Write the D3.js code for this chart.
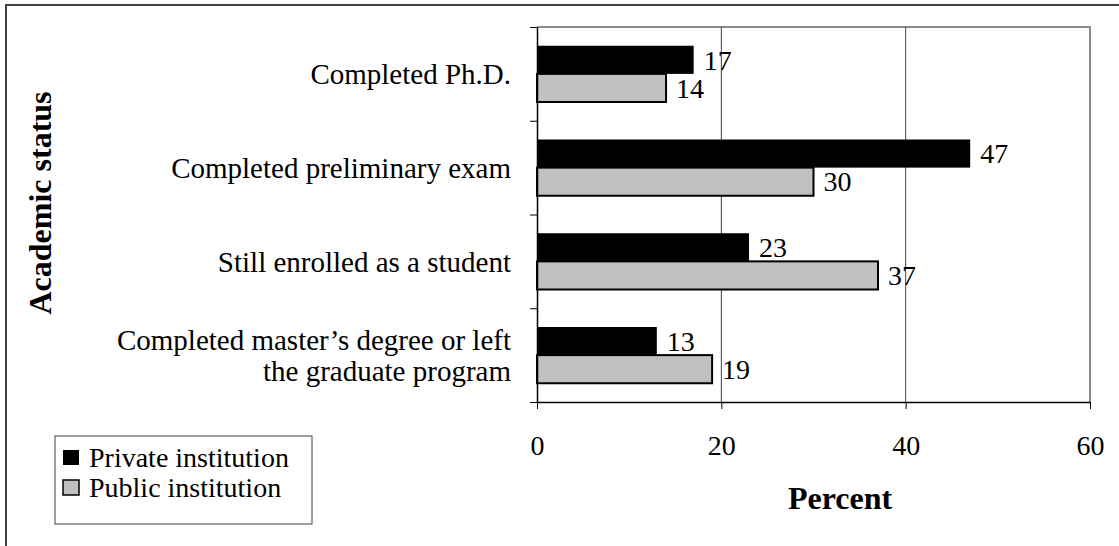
<!DOCTYPE html>
<html>
<head>
<meta charset="utf-8">
<script src="https://cdn.jsdelivr.net/npm/d3@7"></script>
<style>
  body { margin: 0; background: #fff; }
  svg { display: block; font-family: "Liberation Serif", "Times New Roman", serif; }
</style>
</head>
<body>
<svg width="1119" height="546"></svg>
<script>
// data
const categories = [
  "Completed Ph.D.",
  "Completed preliminary exam",
  "Still enrolled as a student",
  "Completed master\u2019s degree or left|the graduate program"
]
const seriesNames = ["Private institution", "Public institution"]
const privateValues = [17, 47, 23, 13]
const publicValues = [14, 30, 37, 19]
const xTicks = [0, 20, 40, 60]

const colors = ["#000000", "#c0c0c0"]

const svg = d3.select("svg")
const plotL = 537, plotR = 1090, plotT = 27, plotB = 402

const x = d3.scaleLinear().domain([0, 60]).range([plotL, plotR])
const y = d3.scaleBand().domain(categories).range([plotT, plotB]).padding(0)
const ySeries = d3.scaleBand().domain([0, 1])
  .range([y.bandwidth() * 0.2, y.bandwidth() * 0.8])
const yEdge = d3.scaleLinear().domain([0, categories.length]).range([plotT, plotB])

// outer frame (top + left only)
svg.append("path")
  .attr("d", "M6,546V5H1119")
  .attr("fill", "none")
  .attr("stroke", "#404040")
  .attr("stroke-width", 2)

// plot border top/right
svg.append("path")
  .attr("d", `M${plotL},${plotT}H${plotR}V${plotB}`)
  .attr("fill", "none")
  .attr("stroke", "#8c8c8c")
  .attr("stroke-width", 2)

// gridlines
svg.append("g").selectAll("line")
  .data(xTicks.slice(1, -1))
  .join("line")
  .attr("x1", d => x(d)).attr("x2", d => x(d))
  .attr("y1", plotT).attr("y2", plotB)
  .attr("stroke", "#404040")
  .attr("stroke-width", 1)

// bars
const rows = categories.map((c, i) => ({ cat: c, vals: [privateValues[i], publicValues[i]] }))

const groups = svg.append("g").selectAll("g")
  .data(rows)
  .join("g")
  .attr("transform", d => "translate(0," + y(d.cat) + ")")

groups.selectAll("rect")
  .data(d => d.vals.map((v, s) => ({ v: v, s: s })))
  .join("rect")
  .attr("x", x(0))
  .attr("y", d => ySeries(d.s))
  .attr("width", d => x(d.v) - x(0))
  .attr("height", ySeries.bandwidth())
  .attr("fill", d => colors[d.s])
  .attr("stroke", d => d.s === 1 ? "#000" : "none")
  .attr("stroke-width", 2)

// value labels
groups.selectAll("text")
  .data(d => d.vals.map((v, s) => ({ v: v, s: s })))
  .join("text")
  .attr("x", d => x(d.v) + 10)
  .attr("y", d => ySeries(d.s) + ySeries.bandwidth() / 2)
  .attr("dy", "0.35em")
  .attr("font-size", 28)
  .text(d => d.v)

// left axis (ticks at category edges)
const yAxis = svg.append("g")
  .attr("transform", "translate(" + plotL + ",0)")
  .call(d3.axisLeft(yEdge).tickValues(d3.range(categories.length + 1)).tickSize(7).tickSizeOuter(0).tickFormat(""))
yAxis.select(".domain").attr("stroke-width", 1.5)

// category labels
svg.append("g").selectAll("text")
  .data(categories)
  .join("text")
  .attr("text-anchor", "end")
  .attr("font-size", 29)
  .each(function (d) {
    const lines = d.split("|")
    const t = d3.select(this)
    const cy = y(d) + y.bandwidth() / 2
    const lh = 31
    lines.forEach((ln, k) => {
      t.append("tspan")
        .attr("x", 511)
        .attr("y", cy + (k - (lines.length - 1) / 2) * lh)
        .attr("dy", "0.35em")
        .text(ln)
    })
  })

// bottom axis
const xAxis = svg.append("g")
  .attr("transform", "translate(0," + plotB + ")")
  .call(d3.axisBottom(x).tickValues(xTicks).tickSize(7).tickSizeOuter(0))
xAxis.select(".domain").attr("stroke-width", 1.5)
xAxis.selectAll("text")
  .attr("y", 53).attr("dy", 0)
  .attr("font-size", 28)
  .attr("font-family", "Liberation Serif, serif")
  .attr("fill", "#000")

// axis titles
svg.append("text")
  .attr("x", 840).attr("y", 509)
  .attr("text-anchor", "middle")
  .attr("font-size", 32).attr("font-weight", "bold")
  .text("Percent")

svg.append("text")
  .attr("transform", "translate(51,203) rotate(-90)")
  .attr("text-anchor", "middle")
  .attr("font-size", 32).attr("font-weight", "bold")
  .text("Academic status")

// legend
const legend = svg.append("g").attr("transform", "translate(55,436)")
legend.append("rect")
  .attr("width", 257).attr("height", 88)
  .attr("fill", "#fff").attr("stroke", "#404040").attr("stroke-width", 1)
const li = legend.selectAll("g.item")
  .data(seriesNames)
  .join("g")
  .attr("class", "item")
  .attr("transform", (d, i) => "translate(8," + (14 + i * 30) + ")")
li.append("rect")
  .attr("width", 16).attr("height", 15)
  .attr("fill", (d, i) => colors[i])
  .attr("stroke", "#000").attr("stroke-width", (d, i) => i === 1 ? 1.5 : 0)
li.append("text")
  .attr("x", 26).attr("y", 17)
  .attr("font-size", 28)
  .text(d => d)
</script>
</body>
</html>
